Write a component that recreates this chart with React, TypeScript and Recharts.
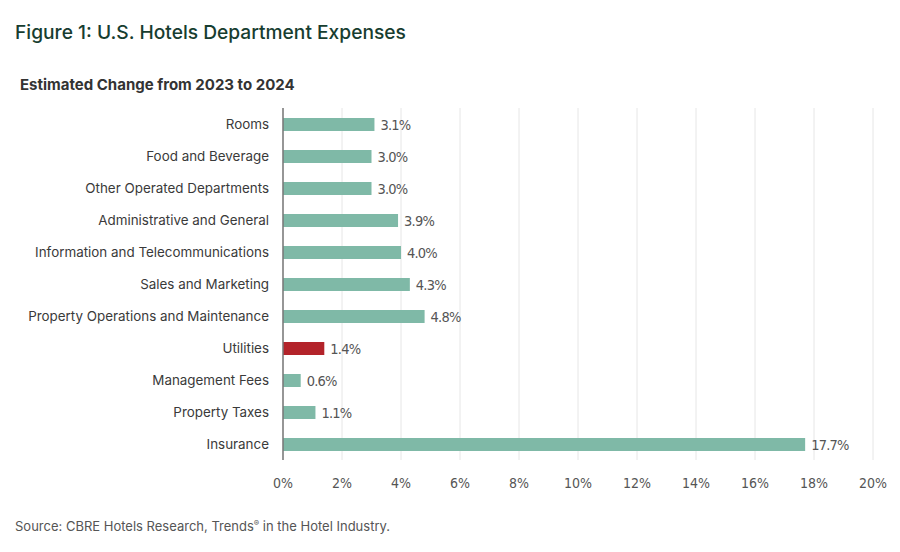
import React from 'react';
import { BarChart, Bar, XAxis, YAxis, CartesianGrid, LabelList, Cell } from 'recharts';

const categories = [
  'Rooms',
  'Food and Beverage',
  'Other Operated Departments',
  'Administrative and General',
  'Information and Telecommunications',
  'Sales and Marketing',
  'Property Operations and Maintenance',
  'Utilities',
  'Management Fees',
  'Property Taxes',
  'Insurance',
];

const changes = [3.1, 3.0, 3.0, 3.9, 4.0, 4.3, 4.8, 1.4, 0.6, 1.1, 17.7];

const highlighted = ['Utilities'];

const xTicks = [0, 2, 4, 6, 8, 10, 12, 14, 16, 18, 20];

const data = categories.map((name, i) => ({ name, value: changes[i] }));

const narrow = '"Liberation Sans Narrow", "DejaVu Sans Condensed", sans-serif';

const App = () => {
  return (
    <div
      style={{
        position: 'absolute',
        left: 0,
        top: 0,
        width: 900,
        height: 552,
        background: '#fff',
        fontFamily: 'Inter, "Noto Sans", sans-serif',
      }}
    >
      <div style={{ position: 'absolute', left: 15, top: 20, fontSize: 19.2, color: '#173d30', fontWeight: 500 }}>
        Figure 1: U.S. Hotels Department Expenses
      </div>
      <div style={{ position: 'absolute', left: 20, top: 75, fontSize: 15, color: '#333', fontWeight: 700 }}>
        Estimated Change from 2023 to 2024
      </div>
      <div style={{ position: 'absolute', left: 15, top: 518, fontSize: 13, color: '#555' }}>
        Source: CBRE Hotels Research, Trends<sup style={{ fontSize: 8 }}>®</sup> in the Hotel Industry.
      </div>
      <div style={{ position: 'absolute', left: 0, top: 0 }}>
        <BarChart
          width={900}
          height={552}
          data={data}
          layout="vertical"
          barSize={13}
          margin={{ top: 108, right: 27, left: 0, bottom: 0 }}
        >
          <CartesianGrid horizontal={false} stroke="#e6e6e6" />
          <XAxis
            type="number"
            domain={[0, 20]}
            ticks={xTicks}
            tickFormatter={(v) => `${v}%`}
            axisLine={false}
            tickLine={false}
            tickMargin={12}
            height={92}
            tick={{ fill: '#555', fontSize: 14, fontFamily: narrow }}
          />
          <YAxis
            type="category"
            dataKey="name"
            width={283}
            tickLine={false}
            tickMargin={8}
            axisLine={{ stroke: '#777', strokeWidth: 1.5 }}
            tick={{ fill: '#3a3a3a', fontSize: 13.4 }}
            interval={0}
          />
          <Bar dataKey="value" fill="#7fb9a7" isAnimationActive={false}>
            {data.map((d) => (
              <Cell key={d.name} fill={highlighted.includes(d.name) ? '#b3232a' : '#7fb9a7'} />
            ))}
            <LabelList
              dataKey="value"
              position="right"
              offset={6}
              formatter={(v: number) => `${v.toFixed(1)}%`}
              style={{ fill: '#555', fontSize: 14.5, fontFamily: narrow, letterSpacing: -0.8 }}
            />
          </Bar>
        </BarChart>
      </div>
    </div>
  );
};

export default App;
